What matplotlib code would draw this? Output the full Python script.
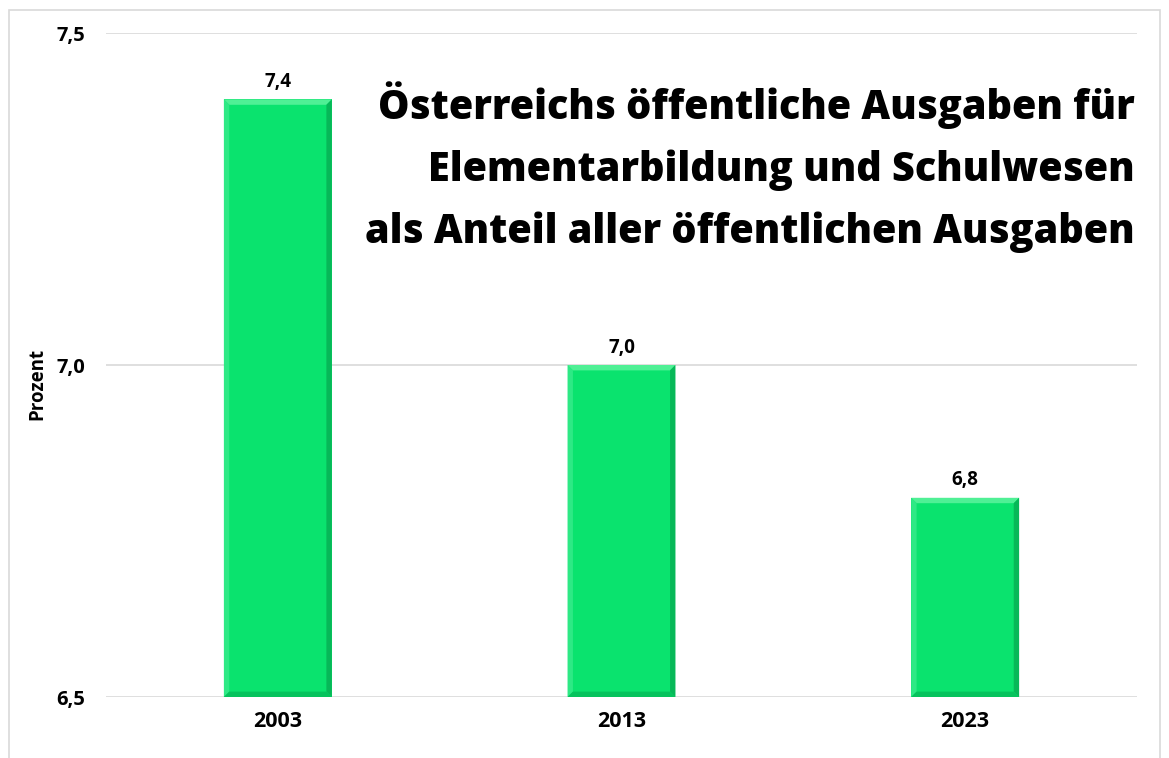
import matplotlib
matplotlib.use("Agg")
import matplotlib.pyplot as plt
from matplotlib.patches import Polygon, Rectangle
from matplotlib.ticker import FuncFormatter

years = ["2003", "2013", "2023"]
values = [7.4, 7.0, 6.8]
y_ticks = [6.5, 7.0, 7.5]
title = "Österreichs öffentliche Ausgaben für\nElementarbildung und Schulwesen\nals Anteil aller öffentlichen Ausgaben"
ylabel = "Prozent"

plt.rcParams['font.family'] = ['Open Sans', 'DejaVu Sans']

fig = plt.figure(figsize=(11.69, 7.58), dpi=100)
W, H = 1169, 758
ax = fig.add_axes([106 / W, 1 - 697 / H, (1137 - 106) / W, (697 - 33) / H])

# outer light frame
fig.patches.append(Rectangle((9 / W, -0.01), (1160 - 9) / W, 1 - 10 / H + 0.01,
                             transform=fig.transFigure, fill=False,
                             edgecolor="#d9d9d9", linewidth=1.2))

base = 6.5
bw = 0.314
x = list(range(len(years)))
bars = ax.bar(x, [v - base for v in values], bottom=base, width=bw,
              color="#0ae36e", edgecolor="none", zorder=3)

# bevel effect computed from each bar's geometry
xpx = 1031 / 3.0   # pixels per x unit
ypx = 664 / 1.0    # pixels per y unit
for b in bars:
    x0, y0 = b.get_x(), b.get_y()
    w, h = b.get_width(), b.get_height()
    dx = w * 0.05
    dy = dx * xpx / ypx
    x1, y1 = x0 + w, y0 + h
    ax.add_patch(Polygon([(x0, y1), (x1, y1), (x1 - dx, y1 - dy), (x0 + dx, y1 - dy)],
                         closed=True, color="#4ff095", lw=0, zorder=4))
    ax.add_patch(Polygon([(x0, y0), (x0, y1), (x0 + dx, y1 - dy), (x0 + dx, y0 + dy)],
                         closed=True, color="#2ee985", lw=0, zorder=4))
    ax.add_patch(Polygon([(x1, y0), (x1, y1), (x1 - dx, y1 - dy), (x1 - dx, y0 + dy)],
                         closed=True, color="#07b858", lw=0, zorder=4))
    ax.add_patch(Polygon([(x0, y0), (x1, y0), (x1 - dx, y0 + dy), (x0 + dx, y0 + dy)],
                         closed=True, color="#06c35d", lw=0, zorder=4))

for xi, v in zip(x, values):
    ax.text(xi, v + 0.011, f"{v:.1f}".replace(".", ","), ha="center", va="bottom",
            fontsize=13.5, fontweight="bold", color="black", zorder=5)

ax.set_xlim(-0.5, len(years) - 0.5)
ax.set_ylim(y_ticks[0], y_ticks[-1])
ax.set_yticks(y_ticks)
ax.yaxis.set_major_formatter(FuncFormatter(lambda v, p: f"{v:.1f}".replace(".", ",")))
ax.set_xticks(x)
ax.set_xticklabels(years)
for lbl in ax.get_xticklabels():
    lbl.set_fontweight("bold")
    lbl.set_fontsize(15.5)
for lbl in ax.get_yticklabels():
    lbl.set_fontweight("bold")
    lbl.set_fontsize(14.5)
ax.tick_params(axis="both", length=0)
ax.tick_params(axis="y", pad=15)
ax.tick_params(axis="x", pad=10)
ax.grid(axis="y", color="#d9d9d9", linewidth=1.2, zorder=0)
for s in ax.spines.values():
    s.set_visible(False)
ax.set_ylabel(ylabel, fontsize=13.5, fontweight="bold")
ax.yaxis.set_label_coords((47 - 106) / 1031, (697 - 384) / 664)

fig.text(1135 / W, 1 - 81 / H, title, ha="right", va="top", fontsize=28.5,
         fontweight="heavy", linespacing=1.66)

fig.savefig("out.png", dpi=100)
